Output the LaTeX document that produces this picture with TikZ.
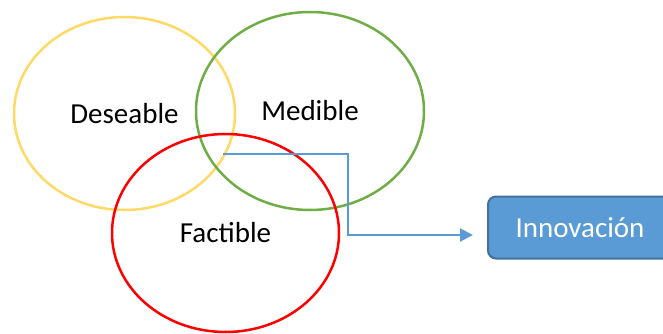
\documentclass[tikz,border=0pt]{standalone}
\usepackage{fontspec}
\setmainfont{Carlito}
\usetikzlibrary{shapes.geometric,arrows.meta}
\definecolor{amarillo}{HTML}{FFD966}
\definecolor{verde}{HTML}{70AD47}
\definecolor{rojo}{HTML}{FF0000}
\definecolor{azul}{HTML}{5B9BD5}
\definecolor{azuloscuro}{HTML}{41719C}
\begin{document}
\begin{tikzpicture}[x=1pt,y=-1pt,font=\fontsize{29}{35}\selectfont,
  conjunto/.style={ellipse,draw,line width=2.5pt,inner sep=0pt}]
\useasboundingbox (0,0) rectangle (663,334);
\clip (0,0) rectangle (663,334);
\node[conjunto,draw=amarillo,minimum width=221pt,minimum height=193pt] (deseable) at (124.5,113.5) {Deseable};
\node[conjunto,draw=verde,minimum width=228pt,minimum height=198pt] (medible) at (310,111) {Medible};
\node[conjunto,draw=rojo,minimum width=227pt,minimum height=198pt] (factible) at (225.5,233) {Factible};
\node[draw=azuloscuro,fill=azul,line width=2pt,rounded corners=8pt,minimum width=184pt,minimum height=62pt,text=white] (innovacion) at (580,227.5) {Innovaci\'on};
\coordinate (inicio) at (223,154);
\coordinate (punta) at (473,235);
\draw[azul,line width=2pt,-{Triangle[length=13pt,width=13pt]}] (inicio) -- ++(125,0) |- (punta);
\end{tikzpicture}
\end{document}
